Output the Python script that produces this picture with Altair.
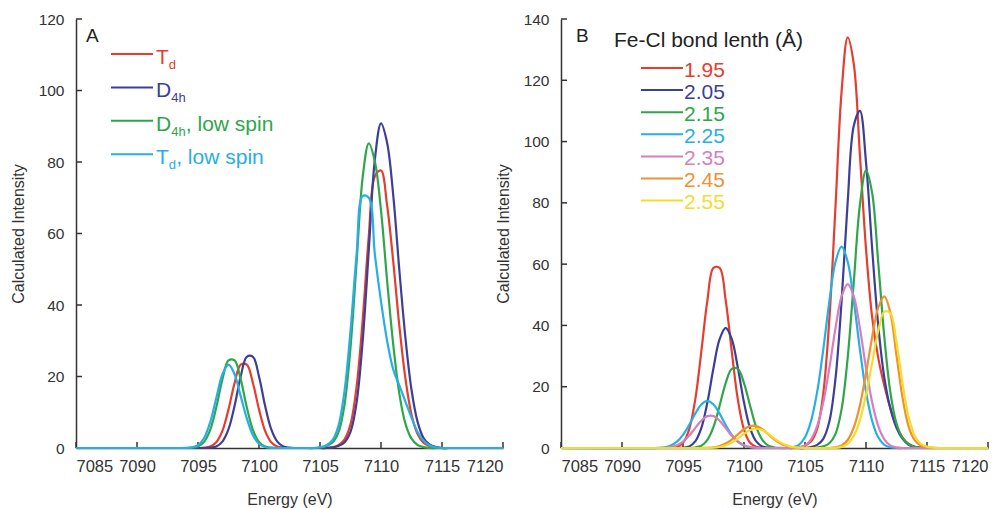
import altair as alt
import pandas as pd

# ---------------- data ----------------
energy = [7085,
          7093.0, 7093.5, 7094.0, 7094.5, 7095.0, 7095.5, 7096.0, 7096.5, 7097.0, 7097.5,
          7098.0, 7098.5, 7099.0, 7099.5, 7100.0, 7100.5, 7101.0, 7101.5, 7102.0, 7102.5,
          7103.0, 7103.5, 7104.0, 7104.5, 7105.0, 7105.5, 7106.0, 7106.5, 7107.0, 7107.5,
          7108.0, 7108.5, 7109.0, 7109.5, 7110.0, 7110.5, 7111.0, 7111.5, 7112.0, 7112.5,
          7113.0, 7113.5, 7114.0, 7114.5, 7115.0, 7115.5, 7116.0, 7116.5, 7117.0,
          7120]

# Panel A
a_td = [0,
        0, 0, 0, 0, 0, 0.08, 0.41, 1.63, 4.8, 10.8,
        18.2, 23.3, 23.3, 18.2, 10.8, 4.8, 1.63, 0.41, 0.08, 0,
        0, 0, 0, 0, 0, 0, 0.23, 0.78, 2.34, 6.6,
        17.2, 35.9, 59.3, 76.0, 77.6, 67.9, 52.3, 34.3, 19.5, 9.4,
        3.9, 1.4, 0.47, 0.12, 0, 0, 0, 0, 0,
        0]
a_d4h = [0,
         0, 0, 0, 0, 0, 0, 0.09, 0.45, 1.79, 5.26,
         11.8, 20.0, 25.5, 25.5, 20.0, 11.8, 5.26, 1.79, 0.45, 0.09,
         0, 0, 0, 0, 0, 0, 0.14, 0.54, 1.54, 4.5,
         12.7, 30.0, 55.4, 80.8, 90.8, 85.4, 70.8, 49.9, 30.9, 16.3,
         7.3, 2.7, 0.9, 0.27, 0, 0, 0, 0, 0,
         0]
a_d4h_ls = [0,
            0, 0, 0, 0.09, 0.43, 1.72, 5.06, 11.4, 19.2, 24.5,
            24.5, 19.2, 11.4, 5.06, 1.72, 0.43, 0.09, 0, 0, 0,
            0, 0, 0, 0, 0.13, 0.51, 1.45, 4.26, 11.9, 28.1,
            52.0, 75.8, 85.2, 80.1, 66.5, 46.9, 29.0, 15.3, 6.8, 2.6,
            0.85, 0.26, 0, 0, 0, 0, 0, 0, 0,
            0]
a_td_ls = [0,
           0, 0, 0.03, 0.19, 0.82, 2.8, 7.2, 14.0, 20.6, 23.3,
           20.6, 14.5, 8.3, 3.6, 1.2, 0.3, 0.05, 0, 0, 0,
           0, 0, 0, 0, 0.21, 0.71, 2.1, 6.1, 15.7, 32.8,
           54.2, 70.5, 70.0, 54.0, 41.0, 30.0, 22.0, 17.5, 13.0, 8.5,
           4.5, 2.0, 0.7, 0.2, 0, 0, 0, 0, 0,
           0]

# Panel B (Fe-Cl bond length)
b_195 = [0,
         0, 0, 0.06, 0.36, 1.69, 6.0, 15.7, 31.4, 48.2, 58.8,
         58.8, 48.2, 31.4, 15.7, 6.0, 1.69, 0.36, 0.06, 0, 0,
         0, 0, 0, 0.19, 0.76, 2.2, 6.35, 17.9, 42.3, 78.8,
         116.4, 134.0, 125.3, 95.7, 65.0, 42.8, 29.5, 20.4, 13.0, 7.2,
         3.4, 1.3, 0.4, 0.1, 0, 0, 0, 0, 0,
         0]
b_205 = [0,
         0, 0, 0, 0, 0.1, 0.51, 2.16, 6.5, 14.9, 26.1,
         35.5, 39.2, 35.5, 26.1, 14.9, 6.5, 2.16, 0.51, 0.1, 0,
         0, 0, 0, 0, 0, 0.3, 1.0, 3.0, 8.7, 22.7,
         48.0, 80.4, 105.2, 110.0, 93.3, 65.3, 40.1, 23.0, 12.8, 6.6,
         3.0, 1.06, 0.32, 0.08, 0, 0, 0, 0, 0,
         0]
b_215 = [0,
         0, 0, 0, 0, 0, 0.03, 0.16, 0.74, 2.65, 6.9,
         13.8, 21.2, 25.8, 25.8, 21.2, 13.8, 6.9, 2.65, 0.74, 0.16,
         0.03, 0, 0, 0, 0, 0, 0.12, 0.52, 1.54, 4.6,
         12.7, 29.5, 54.2, 79.3, 90.6, 83.3, 60.7, 36.3, 18.1, 8.0,
         3.3, 1.26, 0.36, 0.06, 0, 0, 0, 0, 0,
         0]
b_225 = [0,
         0.06, 0.25, 0.82, 2.08, 4.3, 7.5, 11.2, 14.2, 15.4, 14.2,
         11.2, 7.5, 4.3, 2.08, 0.82, 0.25, 0.06, 0, 0, 0,
         0, 0, 0.26, 1.05, 3.5, 8.9, 18.4, 32.2, 48.0, 60.8,
         65.7, 60.8, 48.0, 32.2, 18.4, 8.9, 3.5, 1.05, 0.26, 0,
         0, 0, 0, 0, 0, 0, 0, 0, 0,
         0]
b_235 = [0,
         0, 0.08, 0.32, 0.92, 2.12, 4.0, 6.5, 8.9, 10.4, 10.4,
         8.9, 6.5, 4.0, 2.12, 0.92, 0.32, 0.08, 0, 0, 0,
         0, 0, 0, 0.21, 0.86, 2.84, 7.2, 15.0, 26.2, 39.1,
         49.5, 53.5, 49.5, 39.1, 26.2, 15.0, 7.2, 2.84, 0.86, 0.21,
         0, 0, 0, 0, 0, 0, 0, 0, 0,
         0]
b_245 = [0,
         0, 0, 0, 0, 0, 0, 0, 0, 0.06, 0.22,
         0.64, 1.46, 2.77, 4.45, 6.13, 7.15, 7.15, 6.13, 4.45, 2.77,
         1.46, 0.64, 0.22, 0.06, 0, 0, 0, 0, 0, 0.2,
         0.8, 2.6, 6.7, 13.9, 24.3, 36.1, 45.8, 49.5, 44.1, 30.2,
         16.3, 6.9, 2.5, 0.84, 0.3, 0.07, 0, 0, 0,
         0]
b_255 = [0,
         0, 0, 0, 0, 0, 0, 0, 0, 0.03, 0.1,
         0.33, 0.85, 1.76, 3.09, 4.6, 5.83, 6.3, 5.83, 4.6, 3.09,
         1.76, 0.85, 0.33, 0.1, 0.03, 0, 0, 0, 0, 0,
         0.36, 1.36, 3.95, 9.1, 17.3, 27.7, 38.1, 44.5, 44.0, 34.5,
         20.9, 10.0, 3.9, 1.36, 0.45, 0.14, 0, 0, 0,
         0]

a_names = ["Td", "D4h", "D4h, low spin", "Td, low spin"]
a_series = [a_td, a_d4h, a_d4h_ls, a_td_ls]
b_names = ["1.95", "2.05", "2.15", "2.25", "2.35", "2.45", "2.55"]
b_series = [b_195, b_205, b_215, b_225, b_235, b_245, b_255]

x_ticks = [7085, 7090, 7095, 7100, 7105, 7110, 7115, 7120]
a_y_ticks = [0, 20, 40, 60, 80, 100, 120]
b_y_ticks = [0, 20, 40, 60, 80, 100, 120, 140]

# ---------------- styling ----------------
FONT = "Liberation Sans"
INK = "#333333"
RED, NAVY, GREEN, CYAN = "#e53d2f", "#3c3f97", "#2fa64a", "#27aee6"
PINK, ORANGE, YELLOW = "#d67fbf", "#f0912f", "#f4dc2c"
a_colors = [RED, NAVY, GREEN, CYAN]
b_colors = [RED, NAVY, GREEN, CYAN, PINK, ORANGE, YELLOW]

W, H = 427, 429
ONE = pd.DataFrame({"k": [0]})


def long_df(names, series):
    rows = []
    for n, vals in zip(names, series):
        for e, v in zip(energy, vals):
            rows.append({"E": e, "I": v, "S": n})
    return pd.DataFrame(rows)


def txt(t, x, y, size, color):
    return alt.Chart(ONE).mark_text(
        text=t, align="left", baseline="alphabetic", font=FONT,
        fontSize=size, color=color
    ).encode(x=alt.value(x), y=alt.value(y))


def seg(x1, x2, y, color):
    return alt.Chart(ONE).mark_rule(color=color, strokeWidth=2).encode(
        x=alt.value(x1), x2=alt.value(x2), y=alt.value(y))


def panel(names, series, colors, ymax, yticks, extra):
    df = long_df(names, series)
    xs = alt.Scale(domain=[7085, 7120], nice=False, zero=False)
    ys = alt.Scale(domain=[0, ymax], nice=False)
    lines = alt.Chart(df).mark_line(interpolate="catmull-rom", strokeWidth=2.2).encode(
        x=alt.X("E:Q", scale=xs,
                axis=alt.Axis(values=x_ticks, format="d", title="Energy (eV)")),
        y=alt.Y("I:Q", scale=ys,
                axis=alt.Axis(values=yticks, format="d", title="Calculated Intensity")),
        color=alt.Color("S:N", scale=alt.Scale(domain=names, range=colors), legend=None),
    )
    xt = alt.Chart(pd.DataFrame({"E": x_ticks})).mark_rule(
        color=INK, strokeWidth=1.5).encode(
        x=alt.X("E:Q", scale=xs), y=alt.value(H), y2=alt.value(H - 6))
    yt = alt.Chart(pd.DataFrame({"I": yticks})).mark_rule(
        color=INK, strokeWidth=1.5).encode(
        y=alt.Y("I:Q", scale=ys), x=alt.value(0), x2=alt.value(6))
    return alt.layer(xt, yt, lines, *extra).properties(width=W, height=H)


# ---- panel A legend (manual, with subscripts) ----
a_extra = [txt("A", 10, 23, 19, "#222222")]
a_parts = [("T", "d", ""), ("D", "4h", ""), ("D", "4h", ", low spin"), ("T", "d", ", low spin")]
main_w = {"T": 12.8, "D": 15.2}
sub_w = {"d": 7.4, "4h": 14.6}
for i, ((m, s, suf), c) in enumerate(zip(a_parts, a_colors)):
    ly = 35 + i * 33.4
    by = ly + 10
    a_extra.append(seg(35, 77, ly, c))
    a_extra.append(txt(m, 80, by, 21, c))
    sx = 80 + main_w[m]
    a_extra.append(txt(s, sx, by + 5, 13, c))
    if suf:
        a_extra.append(txt(suf, sx + sub_w[s], by, 21, c))

# ---- panel B legend ----
b_extra = [txt("B", 15, 23, 19, "#222222"),
           txt("Fe-Cl bond lenth (Å)", 53, 28, 21, "#222222")]
for i, (n, c) in enumerate(zip(b_names, b_colors)):
    ly = 49 + i * 22.1
    b_extra.append(seg(80, 122, ly, c))
    b_extra.append(txt(n, 123, ly + 8.5, 21, c))

chart_a = panel(a_names, a_series, a_colors, 120, a_y_ticks, a_extra)
chart_b = panel(b_names, b_series, b_colors, 140, b_y_ticks, b_extra)

chart = alt.hconcat(chart_a, chart_b, spacing=58, bounds="flush").resolve_scale(
    color="independent", x="independent", y="independent"
).properties(
    padding={"left": 10, "top": 12, "right": 2, "bottom": 0},
    background="white",
).configure_view(strokeWidth=0).configure_axis(
    grid=False, ticks=False, tickSize=0,
    domainColor=INK, domainWidth=1.5,
    labelColor=INK, labelFont=FONT,
    titleColor=INK, titleFont=FONT, titleFontSize=16, titleFontWeight="normal",
).configure_axisX(
    labelFontSize=16.5, labelPadding=10, titlePadding=17,
).configure_axisY(
    labelFontSize=15.5, labelPadding=12, titlePadding=12,
)

chart.save("out.html", embed_options={"renderer": "svg", "actions": False})
